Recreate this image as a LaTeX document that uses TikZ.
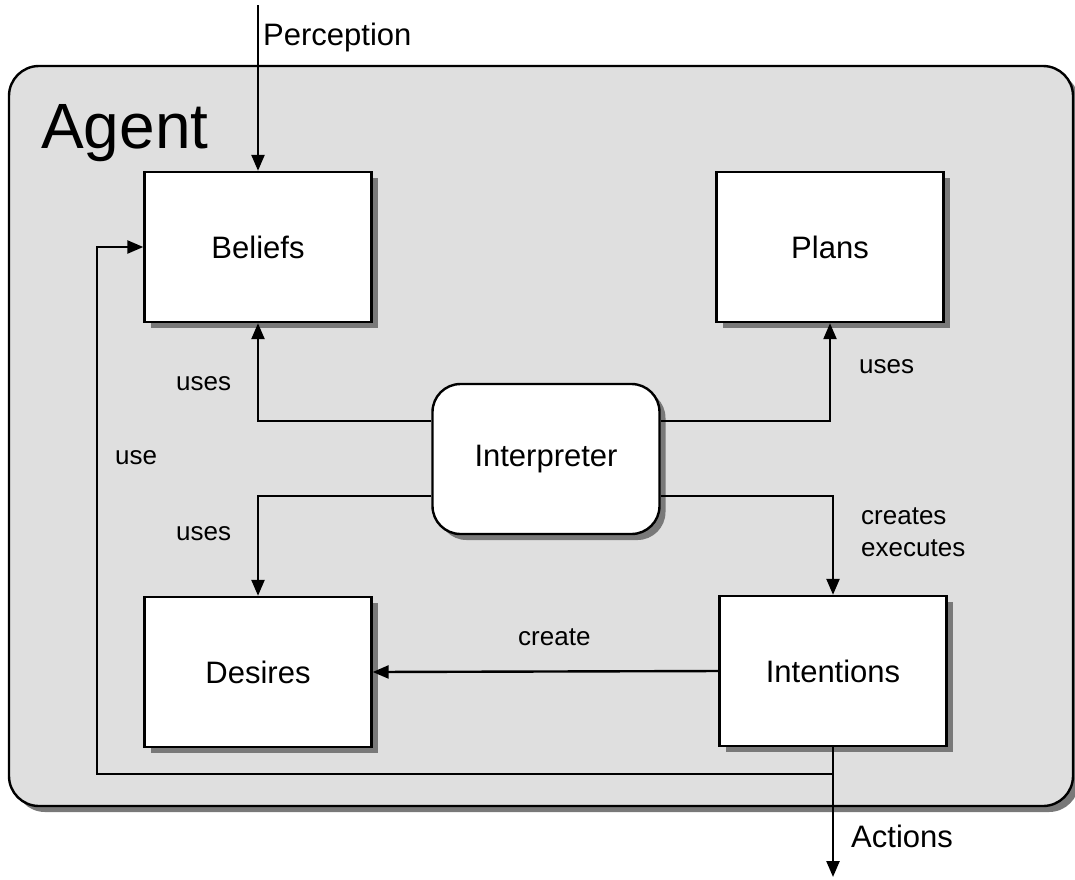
\documentclass[tikz,border=0pt]{standalone}
\usepackage{fontspec}
\setmainfont{Liberation Sans}
\usepackage{tikz}
\usetikzlibrary{arrows.meta, shadows}

\begin{document}
\begin{tikzpicture}[
            x=1pt, y=-1pt,
            line width=2.4pt,
            shade/.style={drop shadow={shadow xshift=6pt, shadow yshift=-6pt, fill=gray!95!black, opacity=1}},
            boxnode/.style={rectangle, draw=black, fill=white, shade, minimum width=227pt, minimum height=150pt, font=\fontsize{31}{37}\selectfont},
            interpnode/.style={boxnode, rounded corners=28pt},
            lbl/.style={anchor=base west, inner sep=0pt, font=\fontsize{26}{31}\selectfont},
            biglbl/.style={lbl, font=\fontsize{31}{37}\selectfont},
            arr/.style={-{Triangle[length=16pt, width=13pt]}},
            ]
            \useasboundingbox (0,0) rectangle (1075,879);
            \node[rectangle, draw=black, fill=gray!25, shade, rounded corners=30pt,
                  minimum width=1064pt, minimum height=740pt] (agent) at (541,436) {};
            \node[anchor=base west, inner sep=0pt, font=\fontsize{64}{70}\selectfont] (title) at (40,148) {Agent};

            \node[boxnode]    (bel)  at (258,247) {Beliefs};
            \node[boxnode]    (pla)  at (830,247) {Plans};
            \node[interpnode] (intp) at (546,459) {Interpreter};
            \node[boxnode]    (des)  at (258,672) {Desires};
            \node[boxnode]    (int)  at (833,671) {Intentions};

            \coordinate (perc) at (258,5);
            \coordinate (act)  at (833,877);
            \coordinate (fb)   at (833,774);
            \coordinate (fbc)  at (97,774);

            \draw[arr] (perc) -- (bel.north);
            \draw[arr] ([yshift=38pt]intp.west) -| (bel.south);
            \draw[arr] ([yshift=-37pt]intp.west) -| (des.north);
            \draw[arr] ([yshift=38pt]intp.east) -| (pla.south);
            \draw[arr] ([yshift=-37pt]intp.east) -| (int.north);
            \draw[arr] (int.west) -- (des.east);
            \draw[arr] (int.south) -- (act);
            \draw[arr] (fb) -- (fbc) |- (bel.west);

            \node[biglbl] (lperc) at (262,45) {Perception};
            \node[biglbl] (lact)  at (850,847) {Actions};
            \node[lbl] (lu1) at (175,390) {uses};
            \node[lbl] (lu2) at (175,540) {uses};
            \node[lbl] (lu3) at (858,373) {uses};
            \node[lbl] (lce) at (860,524) {creates};
            \node[lbl] (lex) at (860,556) {executes};
            \node[lbl] (lcr) at (517,645) {create};
            \node[lbl] (luse) at (114,464) {use};
        \end{tikzpicture}
\end{document}
